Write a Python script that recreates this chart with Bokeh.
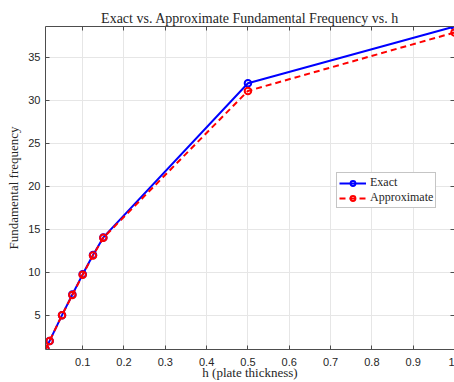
from bokeh.plotting import figure
from bokeh.models import FixedTicker, Range1d, LinearAxis, Legend, LegendItem
from bokeh.embed import file_html
from bokeh.resources import INLINE

h = [0.01, 0.02, 0.05, 0.075, 0.1, 0.125, 0.15, 0.5, 1.0]
exact = [1.05, 2.0, 5.0, 7.4, 9.75, 12.0, 14.05, 32.0, 38.6]
approx = [1.05, 2.0, 5.0, 7.35, 9.7, 11.95, 14.0, 31.1, 37.9]
xticks = [0.1, 0.2, 0.3, 0.4, 0.5, 0.6, 0.7, 0.8, 0.9, 1.0]
yticks = [5, 10, 15, 20, 25, 30, 35]
title_text = "Exact vs. Approximate Fundamental Frequency vs. h"
xlabel_text = "h (plate thickness)"
ylabel_text = "Fundamental frequency"

SERIF = "Liberation Serif"
p = figure(width=454, height=382, output_backend="svg", toolbar_location=None,
           x_range=Range1d(0.01, 1.0), y_range=Range1d(1.0, 38.6),
           min_border_left=45, min_border_right=0, min_border_top=26, min_border_bottom=32)
p.background_fill_color = "white"
p.outline_line_color = None

p.title.text = title_text
p.title.align = "center"
p.title.text_font = SERIF
p.title.text_font_style = "normal"
p.title.text_font_size = "14px"
p.title.text_color = "#262626"
p.title.standoff = 2

axis_col = "#4d4d4d"
for ax in [p.xaxis[0], p.yaxis[0]]:
    ax.axis_line_color = axis_col
    ax.major_tick_line_color = axis_col
    ax.major_tick_in = 4
    ax.major_tick_out = 0
    ax.minor_tick_line_color = None
    ax.major_label_text_font = "Liberation Sans"
    ax.major_label_text_font_size = "11px"
    ax.major_label_text_color = "#262626"
p.xaxis.ticker = FixedTicker(ticks=xticks)
p.yaxis.ticker = FixedTicker(ticks=yticks)
p.xaxis.major_label_standoff = 8
p.yaxis.major_label_standoff = 5

p.yaxis.axis_label = ylabel_text
p.yaxis.axis_label_text_font = SERIF
p.yaxis.axis_label_text_font_style = "normal"
p.yaxis.axis_label_text_font_size = "13px"
p.yaxis.axis_label_text_color = "#262626"
p.yaxis.axis_label_standoff = 4

p.xaxis.axis_label = xlabel_text
p.xaxis.axis_label_text_font = SERIF
p.xaxis.axis_label_text_font_style = "normal"
p.xaxis.axis_label_text_font_size = "13px"
p.xaxis.axis_label_text_color = "#262626"
p.xaxis.axis_label_standoff = -4

for loc in ["above", "right"]:
    ax = LinearAxis(ticker=FixedTicker(ticks=xticks if loc == "above" else yticks))
    ax.axis_line_color = axis_col
    ax.major_tick_line_color = axis_col
    ax.major_tick_in = 4
    ax.major_tick_out = 0
    ax.minor_tick_line_color = None
    ax.major_label_text_font_size = "0px"
    ax.major_label_text_color = None
    ax.major_label_standoff = 0
    p.add_layout(ax, loc)

p.xgrid.ticker = FixedTicker(ticks=xticks)
p.ygrid.ticker = FixedTicker(ticks=yticks)
p.grid.grid_line_color = "#e6e6e6"
p.grid.grid_line_width = 1

l1 = p.line(h, exact, line_color="#0000ff", line_width=2)
s1 = p.scatter(h, exact, marker="circle", size=6.5, fill_color=None, line_color="#0000ff", line_width=2)
l2 = p.line(h, approx, line_color="#ff0000", line_width=2, line_dash="6 4")
s2 = p.scatter(h, approx, marker="circle", size=6.5, fill_color=None, line_color="#ff0000", line_width=2)

legend = Legend(items=[LegendItem(label="Exact", renderers=[l1, s1]),
                       LegendItem(label="Approximate", renderers=[l2, s2])],
                location=(291, 141))
legend.label_text_font = SERIF
legend.label_text_font_size = "12px"
legend.label_text_color = "#262626"
legend.border_line_color = "#8c8c8c"
legend.border_line_width = 1
legend.background_fill_color = "white"
legend.background_fill_alpha = 1
legend.glyph_width = 27
legend.glyph_height = 12
legend.label_height = 12
legend.spacing = 0
legend.padding = 2
legend.margin = 0
legend.label_standoff = 4
p.add_layout(legend, "center")

open("out.html", "w").write(file_html(p, INLINE))
